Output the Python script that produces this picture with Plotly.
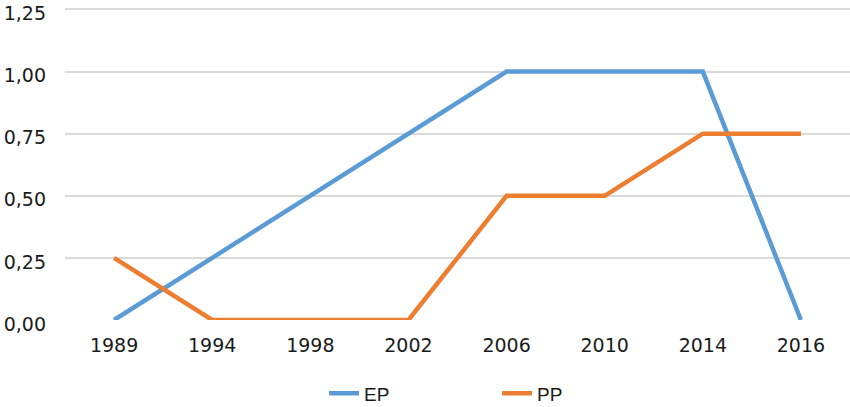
import plotly.graph_objects as go

years = ["1989", "1994", "1998", "2002", "2006", "2010", "2014", "2016"]
ep = [0.0, 0.25, 0.5, 0.75, 1.0, 1.0, 1.0, 0.0]
pp = [0.25, 0.0, 0.0, 0.0, 0.5, 0.5, 0.75, 0.75]
y_ticks = [0, 0.25, 0.5, 0.75, 1.0, 1.25]
y_labels = ["0,00", "0,25", "0,50", "0,75", "1,00", "1,25"]

fig = go.Figure()
fig.add_trace(go.Scatter(x=years, y=ep, mode="lines", name="EP",
                         line=dict(color="#5B9BD5", width=4.5)))
fig.add_trace(go.Scatter(x=years, y=pp, mode="lines", name="PP",
                         line=dict(color="#ED7D31", width=4.5)))

fig.update_layout(
    width=850, height=407,
    margin=dict(l=65, r=0, t=8, b=87, autoexpand=False),
    paper_bgcolor="white", plot_bgcolor="white",
    font=dict(family="DejaVu Sans", size=19, color="#1a1a1a"),
    showlegend=True,
    legend=dict(orientation="h", x=0.33, xanchor="left",
                y=-0.235, yanchor="middle",
                font=dict(family="Liberation Sans", size=19, color="#1a1a1a"),
                entrywidth=128, entrywidthmode="pixels", tracegroupgap=0),
    xaxis=dict(type="category", showgrid=False, zeroline=False, showline=False,
               ticks="", ticklabelstandoff=12, range=[-0.5, 7.5], automargin=False),
    yaxis=dict(range=[0, 1.256], tickvals=y_ticks, ticktext=y_labels,
               showgrid=True, gridcolor="#D9D9D9", gridwidth=1.5,
               zeroline=False, showline=False, ticks="", ticklabelstandoff=18,
               ticklabelshift=4,
               ticklabeloverflow="allow", automargin=False),
)

fig.write_html("out.html", config={"displayModeBar": False},
               post_script="document.body.style.margin='0';document.body.style.padding='0';")
